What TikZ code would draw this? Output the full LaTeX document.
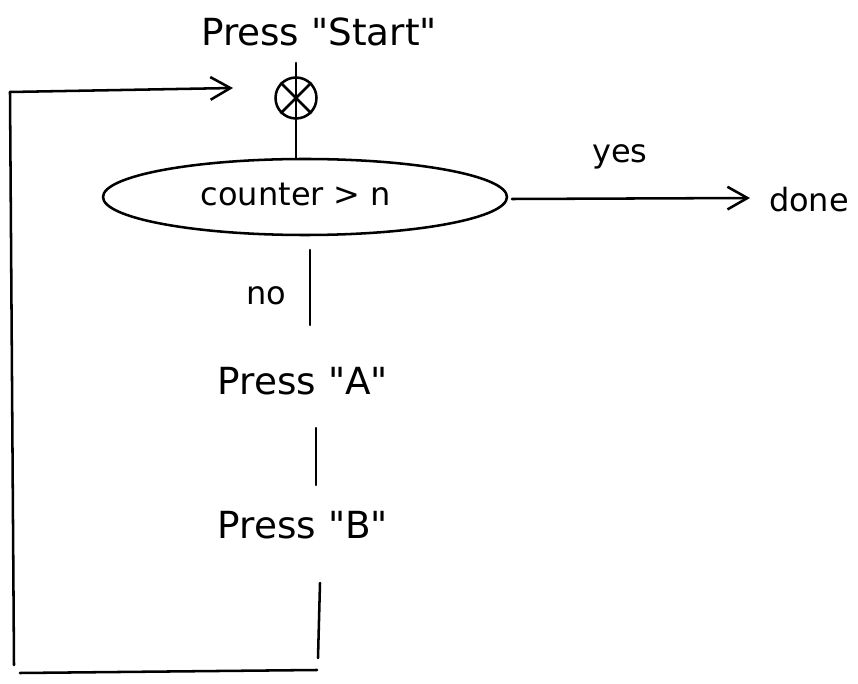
\documentclass[tikz,border=0pt]{standalone}
\usepackage{fontspec}
\setmainfont{DejaVu Sans}
\usetikzlibrary{arrows.meta,shapes.geometric}
\newcommand{\qq}{\textquotedbl}
\begin{document}
\begin{tikzpicture}[x=0.75pt,y=-0.75pt,
  lbl/.style={inner sep=0pt,font=\fontsize{28}{32}\selectfont},
  small/.style={inner sep=0pt,font=\fontsize{24}{28}\selectfont},
  ln/.style={line width=1.9pt,line cap=round},
  arr/.style={ln,-{Straight Barb[length=15pt,width=17pt,line width=1.9pt]}}]
\useasboundingbox (0,0) rectangle (858,684);
\node[lbl] (start) at (319,32) {Press \qq Start\qq};
\node[draw,circle,line width=1.9pt,minimum size=41*0.75pt,inner sep=0pt] (init) at (296,98) {};
\draw[line width=1.9pt] (init.north west) -- (init.south east) (init.south west) -- (init.north east);
\node[draw,ellipse,line width=1.9pt,minimum width=404*0.75pt,minimum height=76*0.75pt,inner sep=0pt] (cond) at (305,197) {};
\node[small] (condtxt) at (296,194) {counter > n};
\coordinate (ctop) at (296,63);
\draw[ln] (ctop) -- (cond.north -| ctop);
\node[small] (done) at (809,200) {done};
\node[small] (yes) at (620,157) {yes};
\coordinate (yesstart) at (512,199);
\coordinate (yesend) at (750,198);
\draw[arr] (yesstart) -- (yesend);
\node[small] (no) at (266,296) {no};
\coordinate (no1) at (310,250);
\coordinate (no2) at (310,325);
\draw[ln] (no1) -- (no2);
\node[lbl] (pa) at (303,381) {Press \qq A\qq};
\coordinate (a1) at (316,428);
\coordinate (a2) at (316,485);
\draw[ln] (a1) -- (a2);
\node[lbl] (pb) at (303,525) {Press \qq B\qq};
\coordinate (b1) at (320,583);
\coordinate (b2) at (318,658);
\draw[ln] (b1) -- (b2);
\coordinate (bl) at (20,673);
\coordinate (br) at (317,670);
\draw[ln] (bl) -- (br);
\coordinate (ll) at (14,665);
\coordinate (lt) at (10,92);
\draw[ln] (ll) -- (lt);
\coordinate (loopend) at (233,88);
\draw[arr] (lt) -- (loopend);
\end{tikzpicture}
\end{document}
